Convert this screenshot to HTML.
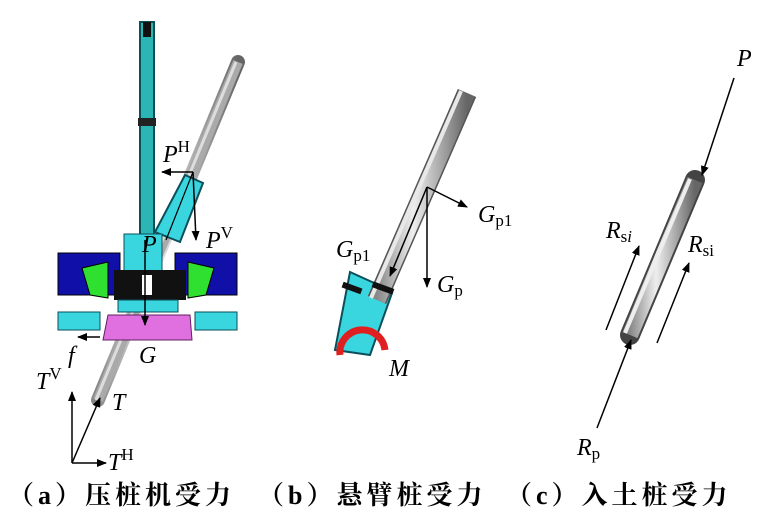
<!DOCTYPE html>
<html><head><meta charset="utf-8"><style>
html,body{margin:0;padding:0;background:#fff;width:771px;height:514px;overflow:hidden}
svg text{font-family:"Liberation Serif","Noto Serif CJK SC",serif}
.cap{font-family:"Liberation Serif","Noto Serif CJK SC",serif;font-weight:bold;font-size:26px;letter-spacing:4px}
</style></head><body>
<svg width="771" height="514" viewBox="0 0 771 514" xmlns="http://www.w3.org/2000/svg">
<defs>
<marker id="a" markerWidth="10" markerHeight="8" refX="9" refY="4" orient="auto" markerUnits="userSpaceOnUse"><path d="M0,0 L10,4 L0,8 Z" fill="#000"/></marker>
<linearGradient id="pg" x1="0" y1="0" x2="1" y2="0"><stop offset="0" stop-color="#888"/><stop offset=".4" stop-color="#eee"/><stop offset="1" stop-color="#666"/></linearGradient>
</defs>
<!-- (a) machine -->
<rect x="140" y="22" width="14" height="220" fill="#2bb5b5" stroke="#0a4f5a" stroke-width="2"/>
<rect x="143" y="22" width="8" height="15" fill="#111"/>
<rect x="138" y="118" width="18" height="8" fill="#222"/>
<line x1="238" y1="62" x2="98" y2="400" stroke="url(#pg)" stroke-width="14" stroke-linecap="round"/>
<line x1="238" y1="62" x2="98" y2="400" stroke="#aaa" stroke-width="10"/>
<line x1="236" y1="62" x2="96" y2="400" stroke="#ddd" stroke-width="3"/>
<polygon points="185,175 203,183 180,242 155,232" fill="#3ad6e0" stroke="#0a4f5a" stroke-width="2"/>
<rect x="58" y="253" width="62" height="42" fill="#1010a8" stroke="#000"/>
<rect x="175" y="253" width="62" height="42" fill="#1010a8" stroke="#000"/>
<rect x="124" y="234" width="38" height="40" fill="#3ad6e0" stroke="#0a4f5a"/>
<rect x="114" y="270" width="72" height="30" fill="#111"/>
<rect x="142" y="275" width="10" height="20" fill="#fff"/>
<polygon points="82,268 108,262 108,298 90,295" fill="#30e030" stroke="#000"/>
<polygon points="214,268 188,262 188,298 206,295" fill="#30e030" stroke="#000"/>
<rect x="58" y="312" width="42" height="18" fill="#3ad6e0" stroke="#0a4f5a"/>
<rect x="195" y="312" width="42" height="18" fill="#3ad6e0" stroke="#0a4f5a"/>
<rect x="118" y="300" width="60" height="12" fill="#3ad6e0" stroke="#0a4f5a"/>
<polygon points="108,315 190,315 192,340 103,340" fill="#e070e0" stroke="#602060"/>
<!-- (a) forces -->
<line x1="193" y1="172" x2="162" y2="172" stroke="#000" stroke-width="1.5" marker-end="url(#a)"/>
<line x1="193" y1="172" x2="196" y2="240" stroke="#000" stroke-width="1.5" marker-end="url(#a)"/>
<line x1="193" y1="172" x2="166" y2="240" stroke="#000" stroke-width="1.2"/>
<line x1="145" y1="240" x2="145" y2="325" stroke="#000" stroke-width="1.5" marker-end="url(#a)"/>
<line x1="100" y1="337" x2="78" y2="337" stroke="#000" stroke-width="1.5" marker-end="url(#a)"/>
<line x1="72" y1="463" x2="100" y2="398" stroke="#000" stroke-width="1.5" marker-end="url(#a)"/>
<line x1="72" y1="463" x2="72" y2="392" stroke="#000" stroke-width="1.5" marker-end="url(#a)"/>
<line x1="72" y1="463" x2="106" y2="463" stroke="#000" stroke-width="1.5" marker-end="url(#a)"/>
<g font-style="italic" font-size="24">
<text x="163" y="162">P<tspan font-style="normal" font-size="17" dy="-10">H</tspan></text>
<text x="206" y="248">P<tspan font-style="normal" font-size="17" dy="-10">V</tspan></text>
<text x="142" y="252">P</text>
<text x="68" y="363">f</text>
<text x="139" y="363">G</text>
<text x="36" y="389">T<tspan font-style="normal" font-size="17" dy="-10">V</tspan></text>
<text x="112" y="410">T</text>
<text x="108" y="470">T<tspan font-style="normal" font-size="17" dy="-10">H</tspan></text>
</g>
<!-- (b) -->
<polygon points="350,272 372,282 392,293 370,355 335,350" fill="#3ad6e0" stroke="#0a4f5a" stroke-width="2"/>
<line x1="467" y1="93" x2="377" y2="300" stroke="#555" stroke-width="20"/>
<line x1="467" y1="93" x2="377" y2="300" stroke="url(#pg)" stroke-width="17"/>
<line x1="461" y1="91" x2="371" y2="298" stroke="#e8e8e8" stroke-width="4"/>
<rect x="342" y="285" width="20" height="6" fill="#111" transform="rotate(20 352 288)"/>
<rect x="372" y="285" width="22" height="6" fill="#111" transform="rotate(20 383 288)"/>
<path d="M340,355 A22,22 0 0 1 385,350" fill="none" stroke="#e02020" stroke-width="7"/>
<line x1="427" y1="187" x2="467" y2="207" stroke="#000" stroke-width="1.5" marker-end="url(#a)"/>
<line x1="427" y1="187" x2="390" y2="276" stroke="#000" stroke-width="1.5" marker-end="url(#a)"/>
<line x1="427" y1="187" x2="427" y2="287" stroke="#000" stroke-width="1.5" marker-end="url(#a)"/>
<g font-style="italic" font-size="24">
<text x="478" y="222">G<tspan font-style="normal" font-size="17" dy="4">p1</tspan></text>
<text x="336" y="257">G<tspan font-style="normal" font-size="17" dy="4">p1</tspan></text>
<text x="437" y="292">G<tspan font-style="normal" font-size="17" dy="4">p</tspan></text>
<text x="389" y="376">M</text>
</g>
<!-- (c) -->
<line x1="695" y1="180" x2="630" y2="335" stroke="#444" stroke-width="20" stroke-linecap="round"/>
<line x1="695" y1="180" x2="630" y2="335" stroke="url(#pg)" stroke-width="16"/>
<line x1="690" y1="179" x2="625" y2="333" stroke="#eee" stroke-width="4"/>
<line x1="734" y1="78" x2="702" y2="175" stroke="#000" stroke-width="1.5" marker-end="url(#a)"/>
<line x1="606" y1="330" x2="639" y2="246" stroke="#000" stroke-width="1.5" marker-end="url(#a)"/>
<line x1="657" y1="343" x2="689" y2="263" stroke="#000" stroke-width="1.5" marker-end="url(#a)"/>
<line x1="597" y1="428" x2="631" y2="340" stroke="#000" stroke-width="1.5" marker-end="url(#a)"/>
<g font-style="italic" font-size="24">
<text x="737" y="66">P</text>
<text x="606" y="238">R<tspan font-style="normal" font-size="17" dy="4">s<tspan font-style="italic">i</tspan></tspan></text>
<text x="688" y="252">R<tspan font-style="normal" font-size="17" dy="4">si</tspan></text>
<text x="577" y="455">R<tspan font-style="normal" font-size="17" dy="4">p</tspan></text>
</g>
<text class="cap" x="8" y="504">（a）压桩机受力</text>
<text class="cap" x="258" y="504">（b）悬臂桩受力</text>
<text class="cap" x="506" y="504">（c）入土桩受力</text>
</svg>
</body></html>
